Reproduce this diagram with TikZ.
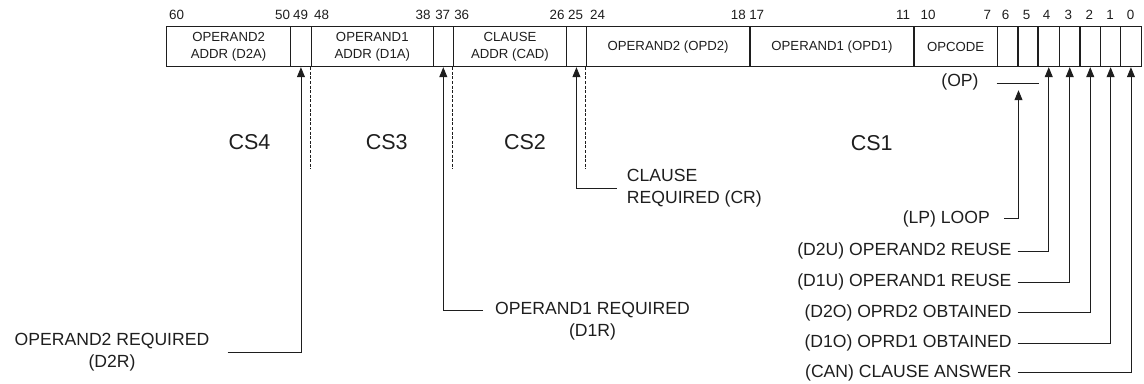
\documentclass[tikz,border=0pt]{standalone}
\usepackage{fontspec}
\setmainfont{Liberation Sans}
\usetikzlibrary{arrows.meta}
\newcommand{\fieldfont}{\fontsize{13.2bp}{16.7bp}\selectfont}
\newcommand{\numfont}{\fontsize{13.4bp}{16bp}\selectfont}
\newcommand{\lblfont}{\fontsize{17.6bp}{22bp}\selectfont}
\newcommand{\csfont}{\fontsize{21.5bp}{24bp}\selectfont}
\definecolor{ink}{HTML}{1E1E1E}
\tikzset{
  fld/.style={draw=ink, line width=1.2bp, minimum height=40bp, inner sep=0pt, anchor=north west, font=\fieldfont, align=center, text=ink},
  num/.style={font=\numfont, inner sep=0pt, text=ink},
  lbl/.style={font=\lblfont, inner sep=0pt, text=ink},
  cslbl/.style={font=\csfont, inner sep=0pt, text=ink},
  conn/.style={draw=ink, line width=0.9bp},
  arr/.style={conn, -{Triangle[length=10bp,width=8bp]}},
  sepline/.style={draw=ink, line width=1.3bp, dash pattern=on 3bp off 1.6bp}
}
\begin{document}
\begin{tikzpicture}[x=1bp,y=-1bp]
\useasboundingbox (0,0) rectangle (1144,383);
% fields
\node[fld, minimum width=124bp]   (d2a) at (166,26)   {OPERAND2\\ADDR (D2A)};
\node[fld, minimum width=20.7bp]  (b49) at (290,26)   {};
\node[fld, minimum width=122bp]   (d1a) at (310.7,26) {OPERAND1\\ADDR (D1A)};
\node[fld, minimum width=20bp]    (b37) at (432.7,26) {};
\node[fld, minimum width=113.3bp] (cad) at (452.7,26) {CLAUSE\\ADDR (CAD)};
\node[fld, minimum width=19.7bp]  (b25) at (566,26)   {};
\node[fld, minimum width=163.6bp] (opd2) at (585.7,26) {OPERAND2 (OPD2)};
\node[fld, minimum width=164bp]   (opd1) at (749.3,26) {OPERAND1 (OPD1)};
\node[fld, minimum width=83.4bp]  (opc) at (913.3,26)  {OPCODE};
\node[fld, minimum width=20.6bp]  (b6) at (996.7,26)   {};
\node[fld, minimum width=20bp]    (b5) at (1017.3,26)  {};
\node[fld, minimum width=21.7bp]  (b4) at (1037.3,26)  {};
\node[fld, minimum width=20.3bp]  (b3) at (1059,26)    {};
\node[fld, minimum width=20.7bp]  (b2) at (1079.3,26)  {};
\node[fld, minimum width=20bp]    (b1) at (1100,26)    {};
\node[fld, minimum width=20.7bp]  (b0) at (1120,26)    {};
% bit numbers
\node[num] (n60) at (176.7,15) {60};
\node[num] (n50) at (282.5,15) {50};
\node[num] (n49) at (300.5,15) {49};
\node[num] (n48) at (321.5,15) {48};
\node[num] (n38) at (423,15) {38};
\node[num] (n37) at (442.7,15) {37};
\node[num] (n36) at (461.7,15) {36};
\node[num] (n26) at (557,15) {26};
\node[num] (n25) at (575.5,15) {25};
\node[num] (n24) at (597.5,15) {24};
\node[num] (n18) at (738.3,15) {18};
\node[num] (n17) at (756.7,15) {17};
\node[num] (n11) at (903,15) {11};
\node[num] (n10) at (928,15) {10};
\node[num] (n7) at (987.3,15) {7};
\node[num] (n6) at (1005.7,15) {6};
\node[num] (n5) at (1026.7,15) {5};
\node[num] (n4) at (1046.7,15) {4};
\node[num] (n3) at (1068.3,15) {3};
\node[num] (n2) at (1089.3,15) {2};
\node[num] (n1) at (1110,15) {1};
\node[num] (n0) at (1130.7,15) {0};
% dashed separators
\coordinate (s1) at ([yshift=-102bp]d1a.south west);
\coordinate (s2) at ([yshift=-102bp]cad.south west);
\coordinate (s3) at ([yshift=-102bp]opd2.south west);
\draw[sepline] (d1a.south west) -- (s1);
\draw[sepline] (cad.south west) -- (s2);
\draw[sepline] (opd2.south west) -- (s3);
% CS labels
\node[cslbl] (cs4) at (249.5,142.5) {CS4};
\node[cslbl] (cs3) at (386.7,142.5) {CS3};
\node[cslbl] (cs2) at (525,142.5) {CS2};
\node[cslbl] (cs1) at (871.7,143) {CS1};
% OP bar
\node[lbl] (op) at (960,82) {(OP)};
\coordinate (opl) at ([yshift=-16bp]b6.south west);
\coordinate (opr) at ([yshift=-16bp]b5.south east);
\coordinate (optip) at ([yshift=-23bp]b6.south east);
\draw[conn] (opl) -- (opr);
% right labels
\node[lbl, anchor=east] (lp)  at (990,218.5)    {(LP) LOOP};
\node[lbl, anchor=east] (d2u) at (1011.7,251)   {(D2U) OPERAND2 REUSE};
\node[lbl, anchor=east] (d1u) at (1011.7,282)   {(D1U) OPERAND1 REUSE};
\node[lbl, anchor=east] (d2o) at (1011.7,312.7) {(D2O) OPRD2 OBTAINED};
\node[lbl, anchor=east] (d1o) at (1011.7,343.3) {(D1O) OPRD1 OBTAINED};
\node[lbl, anchor=east] (can) at (1011.7,372.7) {(CAN) CLAUSE ANSWER};
\draw[arr] ([xshift=14bp]lp.east) -| (optip);
\draw[arr] ([xshift=6bp]d2u.east) -| (b4.south);
\draw[arr] ([xshift=6bp]d1u.east) -| (b3.south);
\draw[arr] ([xshift=6bp]d2o.east) -| (b2.south);
\draw[arr] ([xshift=6bp]d1o.east) -| (b1.south);
\draw[arr] ([xshift=6bp]can.east) -| (b0.south);
% left / middle labels
\node[lbl, align=center] (d2r) at (112,352) {OPERAND2 REQUIRED\\(D2R)};
\draw[arr] ([xshift=18bp]d2r.east) -| (b49.south);
\node[lbl, align=center] (d1r) at (592.5,321) {OPERAND1 REQUIRED\\(D1R)};
\coordinate (d1rend) at (483,310.7);
\draw[arr] (d1rend) -| (b37.south);
\node[lbl, align=left, anchor=west] (cr) at (626.7,188.5) {CLAUSE\\REQUIRED (CR)};
\draw[arr] ([xshift=-10bp]cr.west) -| (b25.south);
\end{tikzpicture}
\end{document}
